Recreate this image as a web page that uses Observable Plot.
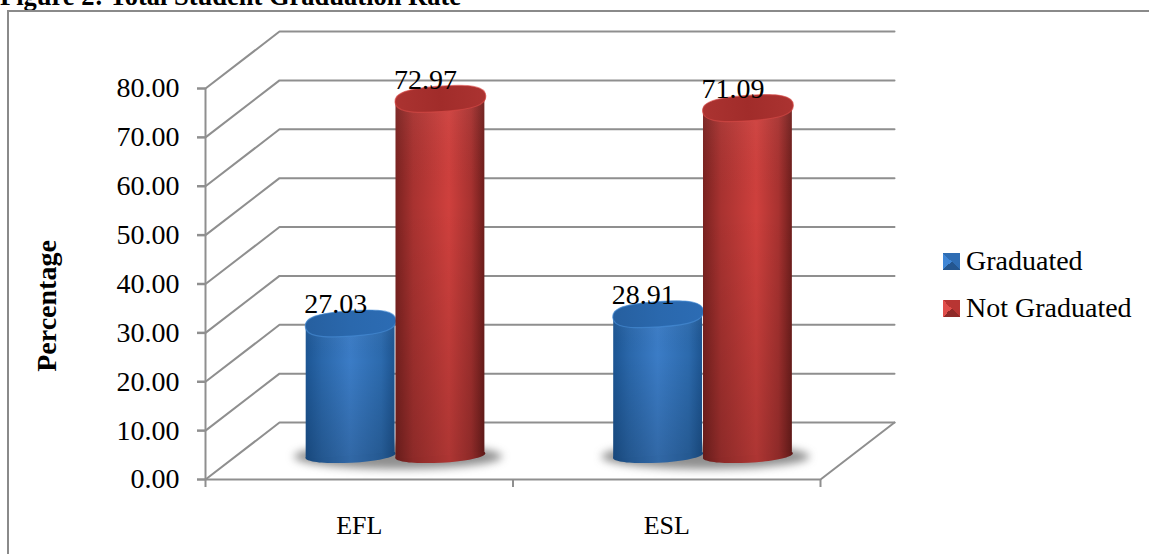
<!DOCTYPE html>
<html>
<head>
<meta charset="utf-8">
<script src="https://cdn.jsdelivr.net/npm/d3@7"></script>
<script src="https://cdn.jsdelivr.net/npm/@observablehq/plot@0.6"></script>
<style>
  html, body { margin: 0; padding: 0; background: #fff; overflow: hidden; }
  body { width: 1149px; height: 554px; position: relative; font-family: "Liberation Serif", serif; color: #000; }
  #title { height: 10px; overflow: hidden; position: relative; }
  #title span { position: absolute; left: 0; top: -19px; font-weight: bold; font-size: 26.5px; line-height: 30px; white-space: nowrap; }
  #frame { margin-left: 7px; border-left: 2px solid #8a8a8a; border-top: 2px solid #8a8a8a; height: 542px; }
  #frame svg { display: block; }
  .legend { position: absolute; left: 943px; font-size: 28px; line-height: 30px; white-space: nowrap; }
  .legend i { position: absolute; left: 0; top: 7px; width: 17px; height: 17px; }
  .legend span { position: absolute; left: 23px; top: 0; }
</style>
</head>
<body>
<div id="title"><span>Figure 2: Total Student Graduation Rate</span></div>
<div id="frame"></div>
<div class="legend" style="top:246px"><i style="background:conic-gradient(from 45deg,#2f6db3 0 25%,#24568f 25% 50%,#3f86d6 50% 75%,#2f6db3 75%)"></i><span>Graduated</span></div>
<div class="legend" style="top:293px"><i style="background:conic-gradient(from 45deg,#b83533 0 25%,#8f2a28 25% 50%,#e04e4b 50% 75%,#b83533 75%)"></i><span>Not Graduated</span></div>
<script>
// Data
const categories = ["EFL", "ESL"];
const seriesNames = ["Graduated", "Not Graduated"];
const graduated = [27.03, 28.91];
const notGraduated = [72.97, 71.09];
const yTicks = [0, 10, 20, 30, 40, 50, 60, 70, 80];

// Oblique-depth conventions, in data units of the x and y scales
const depthX = 0.2407, depthY = 11.66;
const baseLevel = 4.9;
const groupShift = 0.118, barHalf = 0.1445, tilt = 0.7;

const bars = [];
categories.forEach((c, i) => {
  bars.push({cat: c, i, series: 0, value: graduated[i], cx: i + 0.5 + groupShift - barHalf - 0.0015});
  bars.push({cat: c, i, series: 1, value: notGraduated[i], cx: i + 0.5 + groupShift + barHalf + 0.0015});
});
const bodies = bars.flatMap((b) => [
  {id: b.series + "-" + b.i, series: b.series, x: b.cx - barHalf, y1: b.value + baseLevel - tilt, y2: baseLevel - tilt},
  {id: b.series + "-" + b.i, series: b.series, x: b.cx + barHalf, y1: b.value + baseLevel + tilt, y2: baseLevel + tilt}
]);

const ellipse = (ratio, k = 0.5523) => ({
  draw(ctx, size) {
    const rx = Math.sqrt(size / Math.PI), ry = rx * ratio;
    ctx.moveTo(rx, 0);
    ctx.bezierCurveTo(rx, ry * k, rx * k, ry, 0, ry);
    ctx.bezierCurveTo(-rx * k, ry, -rx, ry * k, -rx, 0);
    ctx.bezierCurveTo(-rx, -ry * k, -rx * k, -ry, 0, -ry);
    ctx.bezierCurveTo(rx * k, -ry, rx, -ry * k, rx, 0);
    ctx.closePath();
  }
});

const grid = yTicks.flatMap((v) => [
  {v, x: 0, y: v},
  {v, x: depthX, y: v + depthY},
  {v, x: 2 + depthX, y: v + depthY}
]);
const floorEdge = [{x: 2 + depthX, y: depthY}, {x: 2, y: 0}, {x: 0, y: 0}];
const yAxisLine = [{x: 0, y: 0}, {x: 0, y: 80}];

const defs = () => {
  const d = d3.create("svg:defs");
  const grad = (id, stops, vertical) => {
    const g = d.append("linearGradient").attr("id", id)
      .attr("x1", 0).attr("y1", 0).attr("x2", vertical ? 0 : 1).attr("y2", vertical ? 1 : 0);
    stops.forEach(([o, c, a]) => g.append("stop").attr("offset", o).attr("stop-color", c).attr("stop-opacity", a ?? 1));
  };
  grad("side0", [[0, "#1c5593"], [0.18, "#2a67aa"], [0.5, "#3b7cc6"], [0.85, "#2c6aad"], [1, "#1d5490"]]);
  grad("side1", [[0, "#7a2220"], [0.2, "#a83230"], [0.6, "#cf403d"], [0.85, "#a83230"], [1, "#6e1e1c"]]);
  grad("shade", [[0, "#ffffff", 0.05], [0.3, "#000000", 0], [1, "#000000", 0.16]], true);
  grad("cap0", [[0, "#265f9f"], [0.5, "#2a68ad"], [1, "#2c6cb4"]]);
  grad("cap1", [[0, "#ab3331"], [0.5, "#a12c2a"], [1, "#ab3331"]]);
  return d.node();
};

const rimColor = ["#4a8fd8", "#d94b47"];

const chart = Plot.plot({
  width: 1140,
  height: 542,
  marginLeft: 196,
  marginRight: 329,
  marginTop: 76,
  marginBottom: 75,
  x: {domain: [0, 2]},
  y: {domain: [0, 80]},
  style: {fontFamily: "'Liberation Serif', serif", fontSize: "28px", color: "#000", background: "#fff", overflow: "hidden"},
  marks: [
    defs,
    Plot.line(grid, {x: "x", y: "y", z: "v", stroke: "#8f8f8f", strokeWidth: 2, curve: "linear"}),
    Plot.line(floorEdge, {x: "x", y: "y", stroke: "#8f8f8f", strokeWidth: 2}),
    Plot.line(yAxisLine, {x: "x", y: "y", stroke: "#8f8f8f", strokeWidth: 2}),
    Plot.axisY(yTicks, {tickSize: 8, tickPadding: 18, tickFormat: d3.format(".2f"), stroke: "#8f8f8f", strokeWidth: 2.5, fill: "#000", label: null, anchor: "left"}),
    Plot.axisX([0, 1, 2], {tickSize: 8, tickFormat: () => "", stroke: "#8f8f8f", strokeWidth: 2, label: null}),
    Plot.axisX([0.5, 1.5], {tickSize: 0, tickPadding: 36, tickFormat: (d) => categories[d - 0.5], fill: "#000", fontSize: 26, label: null}),
    Plot.text(["Percentage"], {frameAnchor: "left", textAnchor: "middle", dx: -158, dy: 22, rotate: -90, fontWeight: "bold", fontSize: 28}),
    // floor shadows
    Plot.dot(categories.map((c, i) => i), {x: (i) => i + 0.5 + groupShift + 0.008, y: baseLevel - 0.2, r: 104, symbol: ellipse(0.12), fill: "#444", fillOpacity: 0.6, imageFilter: "blur(4px)"}),
    // cylinders, back to front per group
    ...bars.map((b) => {
      const id = b.series + "-" + b.i;
      const fill = "url(#side" + b.series + ")";
      const body = bodies.filter((d) => d.id === id);
      const one = [b];
      return Plot.marks(
        Plot.dot(one, {x: "cx", y: baseLevel, r: 45, symbol: ellipse(0.16), rotate: -3, fill}),
        Plot.dot(one, {x: "cx", y: baseLevel, r: 45, symbol: ellipse(0.16), rotate: -3, fill: "#000", fillOpacity: 0.16}),
        Plot.area(body, {x1: "x", y1: "y1", y2: "y2", fill, curve: "linear"}),
        Plot.area(body, {x1: "x", y1: "y1", y2: "y2", fill: "url(#shade)", curve: "linear"}),
        Plot.dot(one, {x: "cx", y: (d) => d.value + baseLevel, r: 45.5, symbol: ellipse(0.28, 0.72), rotate: -4, fill: "url(#cap" + b.series + ")", stroke: rimColor[b.series], strokeWidth: 1.2, strokeOpacity: 0.6})
      );
    }),
    Plot.text(bars, {x: "cx", y: (d) => d.value + baseLevel, dx: -15, dy: -10, text: (d) => d.value.toFixed(2), textAnchor: "middle", lineAnchor: "bottom", fontSize: 28, fill: "#000"})
  ]
});
document.getElementById("frame").appendChild(chart);
</script>
</body>
</html>
